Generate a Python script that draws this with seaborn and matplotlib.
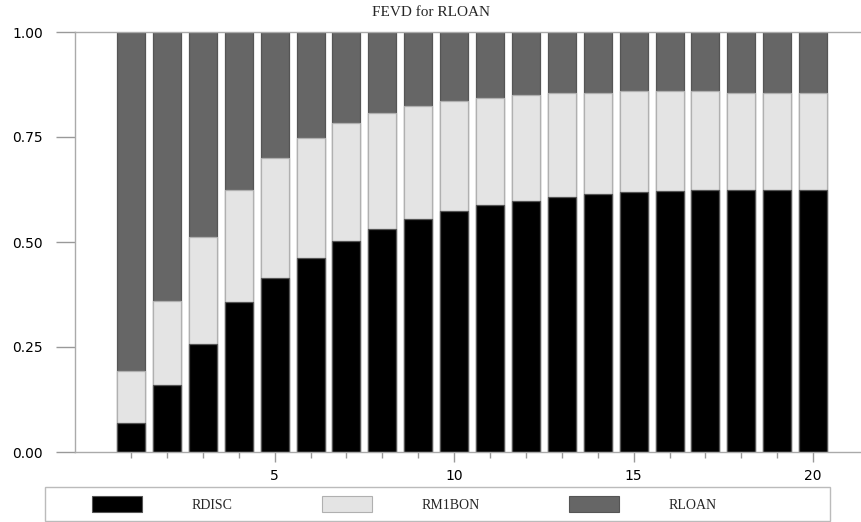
import numpy as np
import pandas as pd
import seaborn as sns
import matplotlib.pyplot as plt
from matplotlib.patches import Patch, Rectangle

# forecast horizon and variance shares
horizon = list(range(1, 21))
rdisc = [0.070, 0.160, 0.258, 0.356, 0.414, 0.461, 0.502, 0.530, 0.554, 0.573,
         0.587, 0.598, 0.606, 0.614, 0.619, 0.621, 0.624, 0.624, 0.624, 0.624]
rm1bon = [0.123, 0.200, 0.255, 0.268, 0.285, 0.286, 0.281, 0.276, 0.269, 0.262,
          0.255, 0.252, 0.249, 0.240, 0.241, 0.239, 0.236, 0.230, 0.230, 0.230]
rloan = [0.807, 0.640, 0.487, 0.376, 0.301, 0.253, 0.217, 0.194, 0.177, 0.165,
         0.158, 0.150, 0.145, 0.146, 0.140, 0.140, 0.140, 0.146, 0.146, 0.146]
series = ["RDISC", "RM1BON", "RLOAN"]
colors = ["#000000", "#e4e4e4", "#666666"]
edges = ["#555555", "#b0b0b0", "#555555"]

df = pd.DataFrame({"h": horizon, "RDISC": rdisc, "RM1BON": rm1bon, "RLOAN": rloan})
df["c1"] = df["RDISC"]
df["c2"] = df["RDISC"] + df["RM1BON"]
df["c3"] = df["c2"] + df["RLOAN"]

sns.set_style("white")
fig = plt.figure(figsize=(8.62, 5.22), dpi=100)
ax = fig.add_axes([75 / 862, 70 / 522, 787 / 862, 420 / 522])

# stacked bars: draw the tallest cumulative layer first
for col, c, e in zip(["c3", "c2", "c1"], colors[::-1], edges[::-1]):
    sns.barplot(data=df, x="h", y=col, native_scale=True, width=0.78,
                color=c, edgecolor=e, linewidth=0.9, saturation=1, ax=ax)

ax.set_xlim(-0.56, 21.36)
ax.set_ylim(0, 1)
ax.set_xticks([5, 10, 15, 20])
ax.set_xticks(horizon, minor=True)
ax.set_yticks([0, 0.25, 0.5, 0.75, 1.0])
ax.set_yticklabels(["0.00", "0.25", "0.50", "0.75", "1.00"])
ax.set_xlabel("")
ax.set_ylabel("")
ax.tick_params(axis="both", which="both", direction="out", colors="#999999",
               labelcolor="black", labelsize=10, bottom=True, left=True, width=1)
ax.tick_params(axis="x", which="major", length=7, pad=5)
ax.tick_params(axis="x", which="minor", length=4)
ax.tick_params(axis="y", which="minor", left=False)
ax.tick_params(axis="y", length=14, pad=9)
for side in ["left", "bottom", "top"]:
    ax.spines[side].set_color("#aaaaaa")
    ax.spines[side].set_linewidth(1.0)
ax.spines["right"].set_visible(False)

fig.text(0.5, 1 - 13 / 522, "FEVD for RLOAN", ha="center", va="center",
         fontsize=11, family="Liberation Serif")

# legend frame, then the entries without their own frame
fig.patches.append(Rectangle((45 / 862, 1 / 522), 785 / 862, 34 / 522,
                             transform=fig.transFigure, facecolor="white",
                             edgecolor="#bbbbbb", linewidth=1))
handles = [Patch(facecolor=c, edgecolor=e, linewidth=0.8) for c, e in zip(colors, edges)]
fig.legend(handles, series, loc="center left", ncol=3, frameon=False,
           bbox_to_anchor=(92 / 862, 18 / 522), borderpad=0, borderaxespad=0,
           prop={"family": "Liberation Serif", "size": 10},
           handlelength=3.6, handleheight=1.5, handletextpad=3.6,
           columnspacing=6.4)

fig.savefig("out.png", dpi=100)
